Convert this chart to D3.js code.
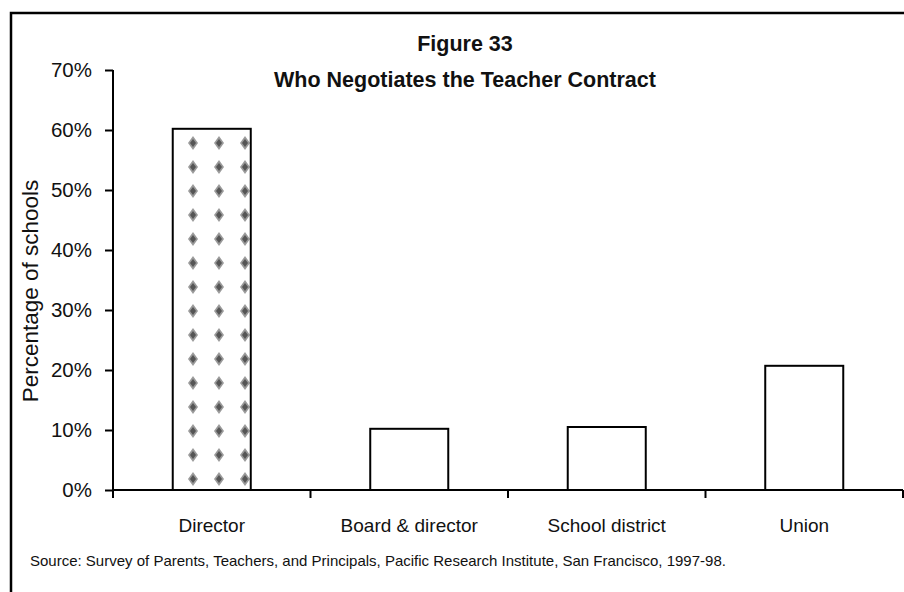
<!DOCTYPE html>
<meta charset="utf-8">
<style>
  body { margin: 0; background: #fff; }
  text { font-family: "Liberation Sans", Arial, sans-serif; fill: #111; }
</style>
<script src="https://d3js.org/d3.v7.min.js"></script>
<div id="chart"></div>
<script>
// data
var categories = ["Director", "Board & director", "School district", "Union"];
var values = [60.2, 10.2, 10.5, 20.7];
var yTicks = [0, 10, 20, 30, 40, 50, 60, 70];
var titleLines = ["Figure 33", "Who Negotiates the Teacher Contract"];
var source = "Source: Survey of Parents, Teachers, and Principals, Pacific Research Institute, San Francisco, 1997-98.";

var width = 904, height = 592;
var plotLeft = 113, plotRight = 903, plotTop = 70, plotBottom = 490;

var svg = d3.select("#chart").append("svg")
  .attr("width", width)
  .attr("height", height);

// diamond pattern for the first bar
var pat = svg.append("defs").append("pattern")
  .attr("id", "dots")
  .attr("patternUnits", "userSpaceOnUse")
  .attr("x", 180).attr("y", 131)
  .attr("width", 26).attr("height", 24);
pat.append("path")
  .attr("d", "M13,5 L18,12 L13,19 L8,12 Z")
  .attr("fill", "#9a9a9a");
pat.append("path")
  .attr("d", "M13,8 L16,12 L13,16 L10,12 Z")
  .attr("fill", "#555");

// frame
svg.append("path")
  .attr("d", "M11,600 V13 H910")
  .attr("fill", "none")
  .attr("stroke", "#000")
  .attr("stroke-width", 2.5);

var x = d3.scaleBand()
  .domain(categories)
  .range([plotLeft, plotRight])
  .paddingInner(0.605)
  .paddingOuter(0.3025);

var y = d3.scaleLinear()
  .domain([0, 70])
  .range([plotBottom, plotTop]);

// bars
svg.selectAll(".bar")
  .data(values)
  .enter()
  .append("rect")
  .attr("class", "bar")
  .attr("x", (d, i) => x(categories[i]))
  .attr("y", d => y(d))
  .attr("width", x.bandwidth())
  .attr("height", d => y(0) - y(d))
  .attr("fill", (d, i) => i === 0 ? "url(#dots)" : "#fff")
  .attr("stroke", "#000")
  .attr("stroke-width", 2);

// y axis
var yAxis = svg.append("g")
  .attr("transform", "translate(" + plotLeft + ",0)")
  .call(d3.axisLeft(y).tickValues(yTicks).tickSize(8).tickPadding(13).tickFormat(d => d + "%"));
yAxis.select(".domain").attr("stroke-width", 2).attr("d", "M0," + plotTop + "V" + plotBottom);
yAxis.selectAll(".tick line").attr("stroke-width", 2);
yAxis.selectAll(".tick text")
  .attr("font-size", 20.5)
  .attr("font-family", null)
  .attr("fill", "#111");
yAxis.attr("font-family", null).attr("font-size", null);

// x axis: line plus ticks at band boundaries
var step = x.step();
var xg = svg.append("g");
xg.append("line")
  .attr("x1", plotLeft).attr("x2", plotRight)
  .attr("y1", plotBottom).attr("y2", plotBottom)
  .attr("stroke", "#000").attr("stroke-width", 2);
xg.selectAll(".xt")
  .data(d3.range(categories.length + 1))
  .enter()
  .append("line")
  .attr("x1", i => plotLeft + i * step)
  .attr("x2", i => plotLeft + i * step)
  .attr("y1", plotBottom)
  .attr("y2", plotBottom + 8)
  .attr("stroke", "#000").attr("stroke-width", 2);
xg.selectAll(".xl")
  .data(categories)
  .enter()
  .append("text")
  .attr("x", d => x(d) + x.bandwidth() / 2)
  .attr("y", 532)
  .attr("text-anchor", "middle")
  .attr("font-size", 19)
  .text(d => d);

// y title
svg.append("text")
  .attr("transform", "translate(38,291) rotate(-90)")
  .attr("text-anchor", "middle")
  .attr("font-size", 22.5)
  .text("Percentage of schools");

// title
svg.selectAll(".title")
  .data(titleLines)
  .enter()
  .append("text")
  .attr("x", 465)
  .attr("y", (d, i) => 51 + i * 36)
  .attr("text-anchor", "middle")
  .attr("font-size", 21.5)
  .attr("font-weight", "bold")
  .text(d => d);

// source
svg.append("text")
  .attr("x", 30)
  .attr("y", 566)
  .attr("font-size", 15)
  .text(source);
</script>
